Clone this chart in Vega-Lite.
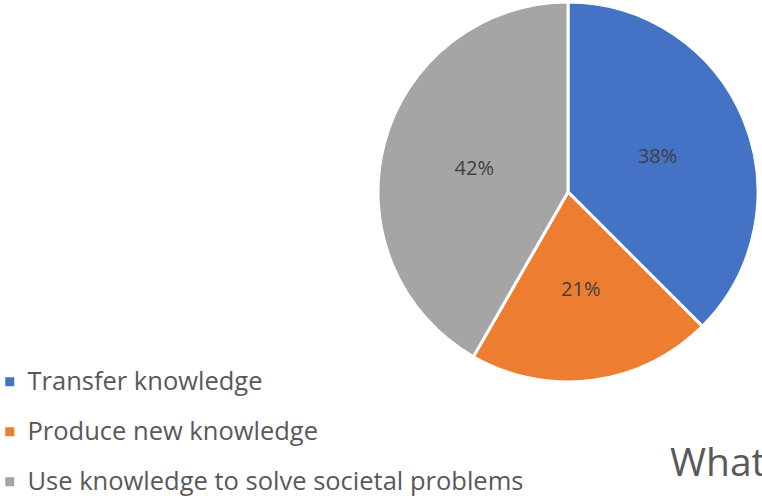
{
  "$schema": "https://vega.github.io/schema/vega-lite/v6.json",
  "width": 380,
  "height": 380,
  "autosize": {"type": "none"},
  "padding": {"left": 378, "top": 2, "right": 4, "bottom": 114},
  "background": "white",
  "view": {"stroke": null},
  "title": {
    "text": "What",
    "orient": "top",
    "anchor": "start",
    "frame": "group",
    "baseline": "alphabetic",
    "offset": 0,
    "dx": 292,
    "dy": 519,
    "fontSize": 39,
    "font": "Open Sans",
    "fontWeight": "normal",
    "color": "#595959"
  },
  "data": {
    "values": [
      {"category": "Transfer knowledge", "value": 37.5, "label": "38%", "order": 1},
      {"category": "Produce new knowledge", "value": 20.8, "label": "21%", "order": 2},
      {"category": "Use knowledge to solve societal problems", "value": 41.7, "label": "42%", "order": 3}
    ]
  },
  "encoding": {
    "theta": {"field": "value", "type": "quantitative", "stack": true},
    "order": {"field": "order", "type": "quantitative"},
    "color": {
      "field": "category",
      "type": "nominal",
      "sort": null,
      "scale": {
        "domain": ["Transfer knowledge", "Produce new knowledge", "Use knowledge to solve societal problems"],
        "range": ["#4472C4", "#ED7D31", "#A5A5A5"]
      },
      "legend": {
        "title": null,
        "orient": "none",
        "legendX": -381,
        "legendY": 367,
        "symbolType": "square",
        "symbolSize": 81,
        "symbolStrokeWidth": 0,
        "labelFontSize": 25.5,
        "labelFont": "Open Sans",
        "labelColor": "#595959",
        "labelOffset": 5,
        "rowPadding": 23,
        "labelLimit": 700
      }
    }
  },
  "layer": [
    {
      "mark": {"type": "arc", "outerRadius": 190, "stroke": "white", "strokeWidth": 3}
    },
    {
      "mark": {"type": "text", "radius": 97, "dy": 2, "fontSize": 20, "font": "Open Sans", "color": "#404040"},
      "encoding": {"text": {"field": "label"}, "color": {"value": "#404040"}}
    }
  ]
}
